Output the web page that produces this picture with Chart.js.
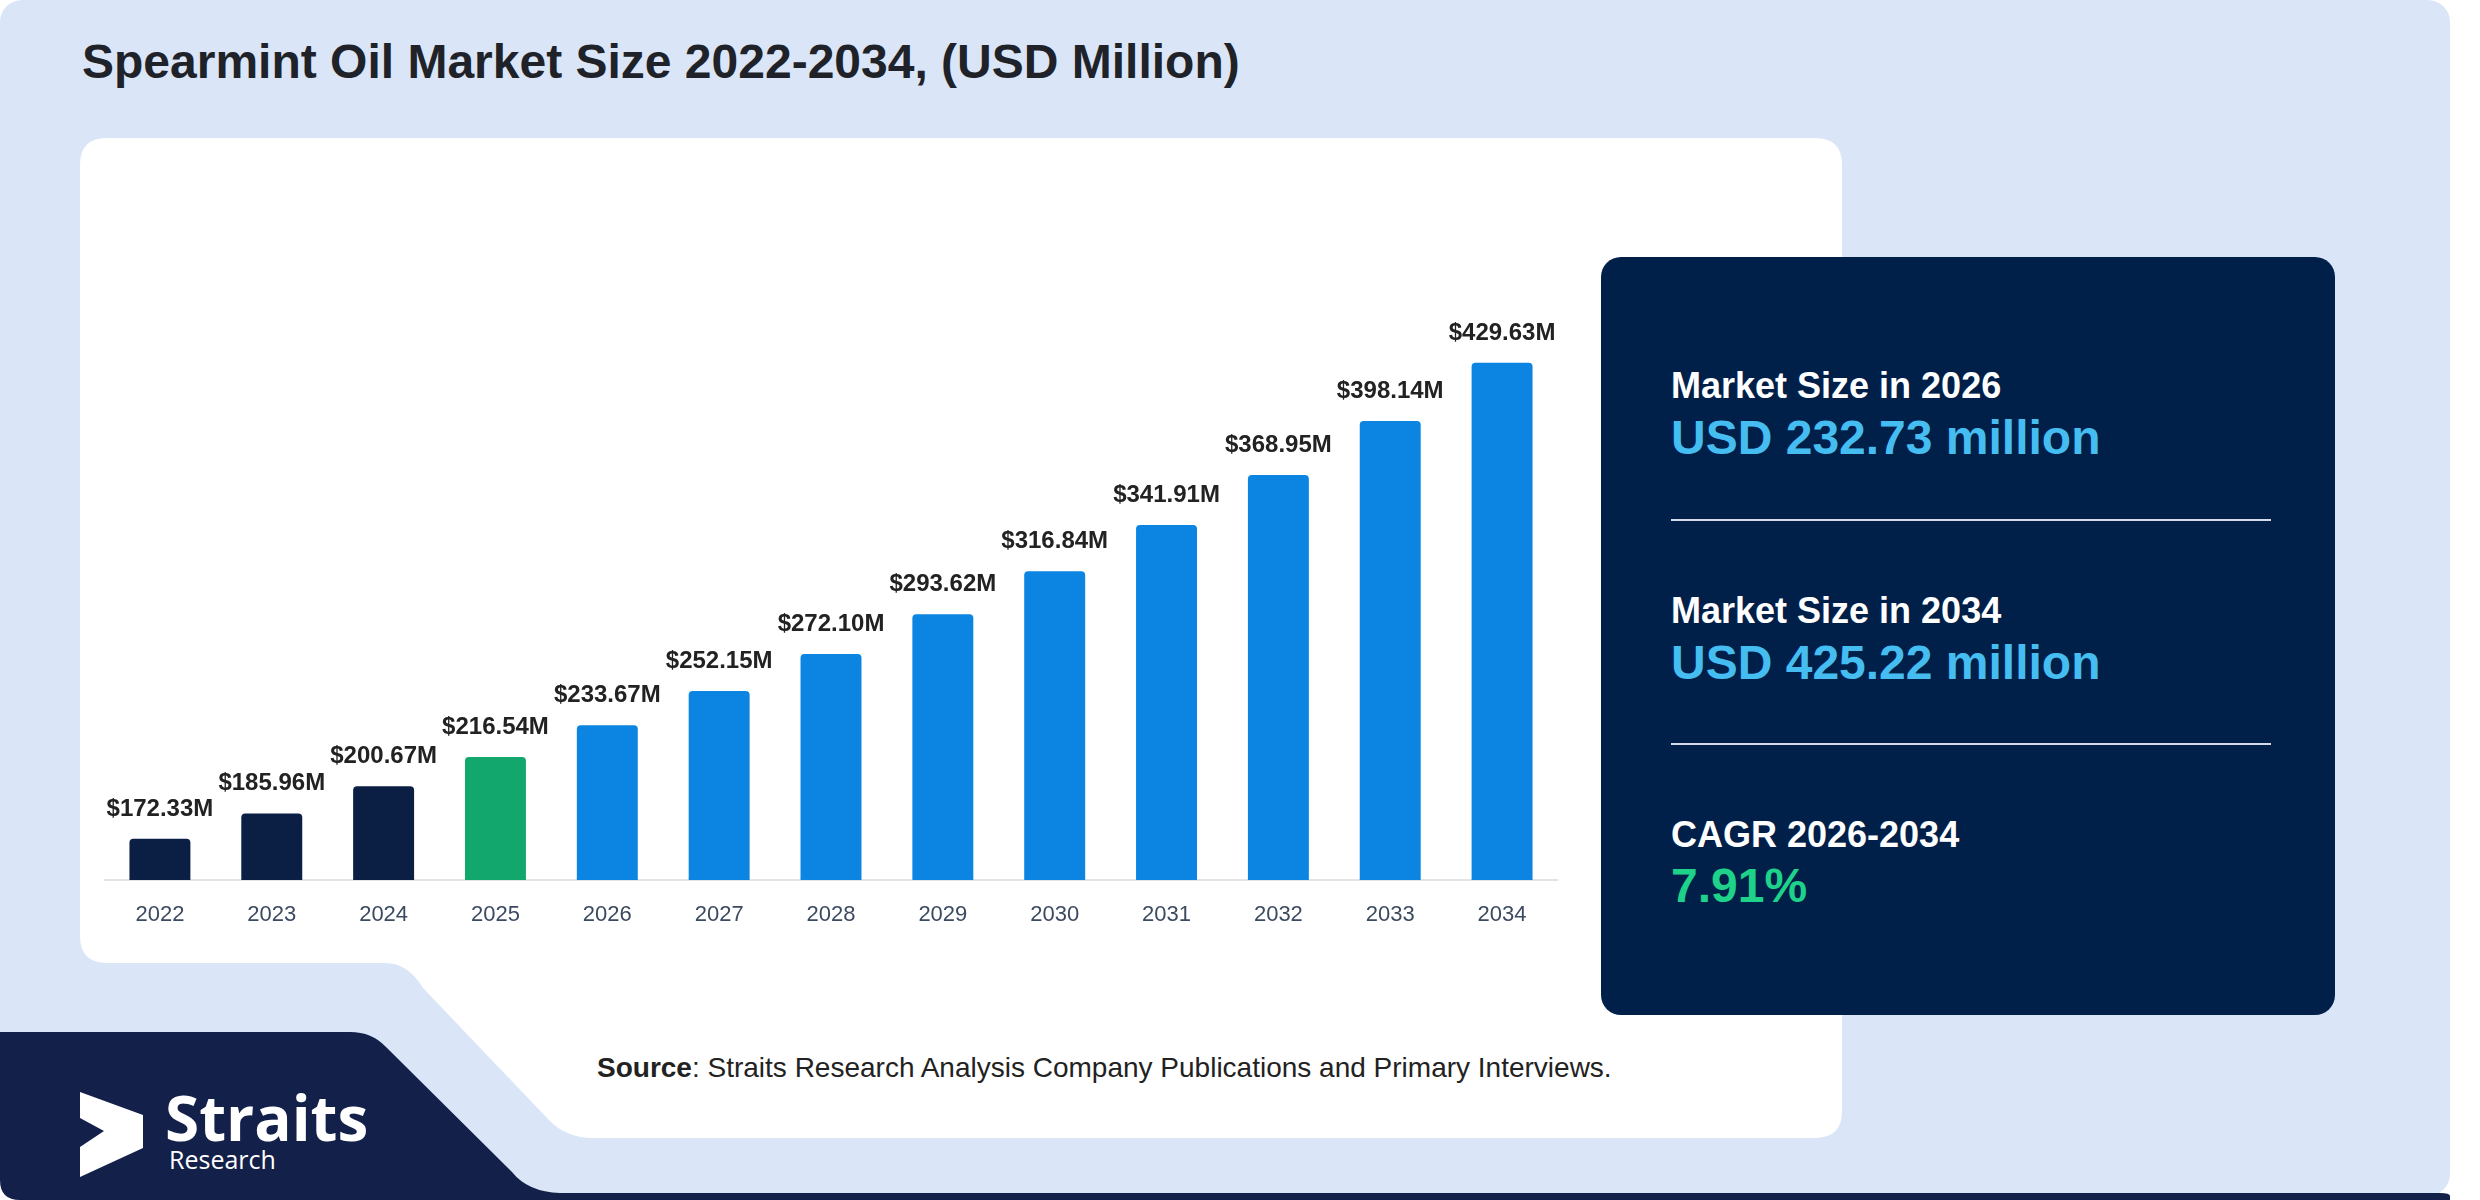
<!DOCTYPE html>
<html>
<head>
<meta charset="utf-8">
<script src="https://cdn.jsdelivr.net/npm/chart.js@4.4.1/dist/chart.umd.min.js"></script>
<style>
  html, body { margin:0; padding:0; background:#ffffff; }
  body { width:2480px; height:1200px; position:relative; overflow:hidden; font-family:"Liberation Sans", Arial, sans-serif; }
  #bg { position:absolute; left:0; top:0; }
  .t { position:absolute; line-height:1; white-space:nowrap; }
  #title { left:82px; top:38px; font-size:48px; font-weight:bold; color:#1f2329; }
  #chartBox { position:absolute; left:104px; top:280px; width:1454px; height:660px; }
  #panel { position:absolute; left:1601px; top:257px; width:734px; height:758px; background:#00204a; border-radius:20px; }
  .lab { font-size:36px; font-weight:bold; color:#ffffff; left:1671px; }
  .val { font-size:48px; font-weight:bold; color:#45bdf0; left:1671px; }
  .grn { color:#1fd28a; }
  .div { position:absolute; left:1671px; width:600px; height:2px; background:#d5dbe4; }
  #source { left:597px; top:1054px; font-size:28px; color:#222222; }
  #straits { left:165px; top:1086px; font-size:62px; font-weight:bold; color:#ffffff; font-family:"Open Sans", sans-serif; }
  #research { left:169px; top:1147px; font-size:25px; color:#ffffff; font-family:"Open Sans", sans-serif; }
</style>
</head>
<body>
<svg id="bg" width="2480" height="1200" viewBox="0 0 2480 1200">
  <rect x="0" y="0" width="2450" height="1196" rx="22" ry="22" fill="#dae6f8"/>
  <path d="M0 1032 H350 Q372 1032 386 1047 L512 1172 Q528 1192 560 1193 H2440 Q2450 1193 2450 1196 V1200 H20 Q0 1200 0 1180 Z" fill="#13204a"/>
  <path d="M107 138 H1815 Q1842 138 1842 165 V1111 Q1842 1138 1815 1138 H594 Q566 1138 549 1120 L423 988 Q408 963 385 963 H107 Q80 963 80 936 V165 Q80 138 107 138 Z" fill="#ffffff"/>
  <polygon points="80,1092 143,1115 143,1148 80,1177 80,1147 104,1131 80,1118" fill="#ffffff"/>
</svg>

<div id="title" class="t">Spearmint Oil Market Size 2022-2034, (USD Million)</div>

<div id="chartBox"><canvas id="chart"></canvas></div>

<div id="panel"></div>
<div class="t lab" style="top:368px;">Market Size in 2026</div>
<div class="t val" style="top:414px;">USD 232.73 million</div>
<div class="div" style="top:519px;"></div>
<div class="t lab" style="top:593px;">Market Size in 2034</div>
<div class="t val" style="top:639px;">USD 425.22 million</div>
<div class="div" style="top:743px;"></div>
<div class="t lab" style="top:817px;">CAGR 2026-2034</div>
<div class="t val grn" style="top:862px;">7.91%</div>

<div id="source" class="t"><b>Source</b>: Straits Research Analysis Company Publications and Primary Interviews.</div>
<div id="straits" class="t">Straits</div>
<div id="research" class="t">Research</div>

<script>
// ---- data ----
const years = ['2022','2023','2024','2025','2026','2027','2028','2029','2030','2031','2032','2033','2034'];
const marketSize = [172.33, 185.96, 200.67, 216.54, 233.67, 252.15, 272.10, 293.62, 316.84, 341.91, 368.95, 398.14, 429.63];
const yMin = 150;
const yMax = 450;

// ---- styles ----
const NAVY = '#0b1f45', GREEN = '#12a86d', BLUE = '#0b84e2';
const barColors = years.map((y, i) => i < 3 ? NAVY : (i === 3 ? GREEN : BLUE));
const fmt = v => '$' + v.toFixed(2) + 'M';

const valueLabelPlugin = {
  id: 'valueLabels',
  afterDatasetsDraw(chart) {
    const ctx = chart.ctx;
    const meta = chart.getDatasetMeta(0);
    ctx.save();
    ctx.font = 'bold 24px "Liberation Sans", Arial, sans-serif';
    ctx.fillStyle = '#222222';
    ctx.textAlign = 'center';
    ctx.textBaseline = 'alphabetic';
    meta.data.forEach((bar, i) => {
      ctx.fillText(fmt(marketSize[i]), bar.x, bar.y - 23);
    });
    ctx.restore();
  }
};

new Chart(document.getElementById('chart'), {
  type: 'bar',
  data: {
    labels: years,
    datasets: [{
      data: marketSize,
      backgroundColor: barColors,
      borderWidth: 0,
      borderRadius: { topLeft: 4, topRight: 4, bottomLeft: 0, bottomRight: 0 },
      borderSkipped: 'bottom',
      categoryPercentage: 1,
      barPercentage: 0.545
    }]
  },
  options: {
    responsive: true,
    maintainAspectRatio: false,
    devicePixelRatio: 1,
    animation: false,
    layout: { padding: { top: 45, left: 0, right: 0, bottom: 0 } },
    plugins: { legend: { display: false }, tooltip: { enabled: false }, title: { display: false } },
    scales: {
      x: {
        grid: { display: false, drawTicks: false },
        border: { display: true, color: '#e3e3e3', width: 2 },
        ticks: { color: '#3c4a60', padding: 22, font: { family: '"Liberation Sans", Arial, sans-serif', size: 22 } },
        afterFit(scale) { scale.height = 60; }
      },
      y: {
        display: false,
        min: yMin,
        max: yMax
      }
    }
  },
  plugins: [valueLabelPlugin]
});
</script>
</body>
</html>
